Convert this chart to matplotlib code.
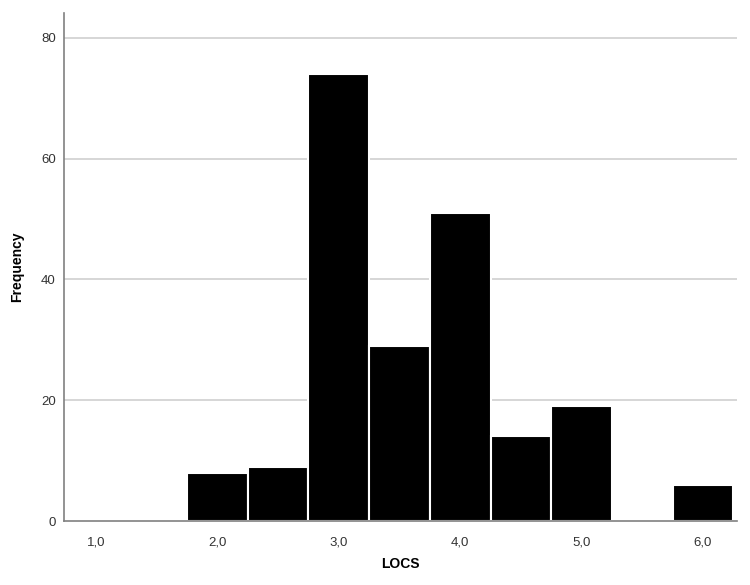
import matplotlib
matplotlib.use("Agg")
import matplotlib.pyplot as plt

bin_centers = [2.0, 2.5, 3.0, 3.5, 4.0, 4.5, 5.0, 6.0]
counts = [8, 9, 74, 29, 51, 14, 19, 6]
bin_width = 0.5
xticks = [1.0, 2.0, 3.0, 4.0, 5.0, 6.0]
xtick_labels = ["1,0", "2,0", "3,0", "4,0", "5,0", "6,0"]
yticks = [0, 20, 40, 60, 80]

plt.rcParams['font.family'] = ['Liberation Sans', 'DejaVu Sans']

fig = plt.figure(figsize=(7.5, 5.85), dpi=100)
ax = fig.add_axes([64/750, 1-521/585, (737-64)/750, (521-13)/585])

ax.bar(bin_centers, counts, width=bin_width, color="black",
       edgecolor="white", linewidth=1.5, zorder=3)

ax.set_xlim(0.736, 6.28)
ax.set_ylim(0, 84.1)
ax.set_xticks(xticks)
ax.set_xticklabels(xtick_labels)
ax.set_yticks(yticks)
for y in yticks[1:]:
    ax.axhline(y, color="#cfcfcf", linewidth=1.2, zorder=1)

ax.tick_params(axis="both", length=0, labelsize=9.5, colors="#333333")
ax.tick_params(axis="x", pad=11)
ax.tick_params(axis="y", pad=6)

for s in ["top", "right"]:
    ax.spines[s].set_visible(False)
for s in ["left", "bottom"]:
    ax.spines[s].set_color("#808080")
    ax.spines[s].set_linewidth(1.2)
    ax.spines[s].set_zorder(4)

ax.set_ylabel("Frequency", fontsize=10, fontweight="bold", labelpad=12)
ax.set_xlabel("LOCS", fontsize=10, fontweight="bold", labelpad=6)

fig.savefig("out.png", dpi=100, facecolor="white")
